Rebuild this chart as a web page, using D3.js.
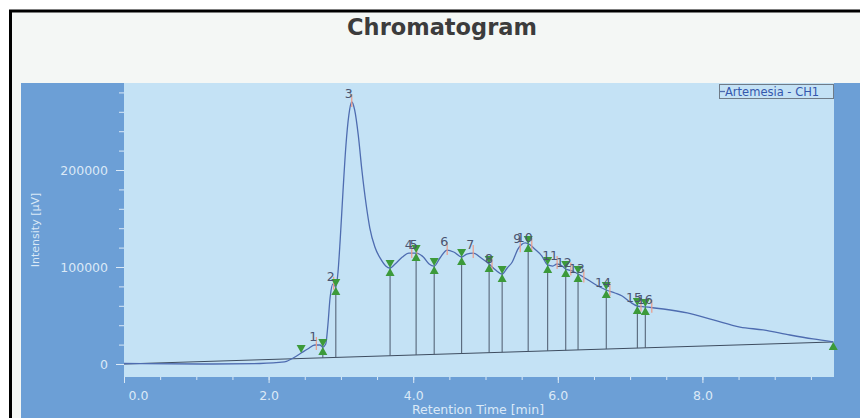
<!DOCTYPE html>
<html>
<head>
<meta charset="utf-8">
<script src="https://cdn.jsdelivr.net/npm/d3@7"></script>
<style>
  html, body { margin: 0; padding: 0; background: #ffffff; }
  svg { display: block; }
  text { font-family: "DejaVu Sans", Verdana, sans-serif; }
</style>
</head>
<body>
<div id="chart"></div>
<script>
// ---------- data ----------
const titleText = "Chromatogram";
const seriesName = "Artemesia - CH1";
const xLabel = "Retention Time [min]";
const yLabel = "Intensity [\u03bcV]";

const times = [0, 1.05, 1.88, 2.22, 2.34, 2.45, 2.54, 2.64, 2.71, 2.75, 2.79, 2.82, 2.85, 2.89, 2.93, 2.96, 2.99,
  3.03, 3.07, 3.11, 3.15, 3.19, 3.24, 3.29, 3.35, 3.40, 3.47, 3.55, 3.62, 3.68, 3.75, 3.85, 3.94, 4.04, 4.14,
  4.22, 4.29, 4.37, 4.47, 4.56, 4.67, 4.74, 4.83, 4.94, 5.05, 5.14, 5.23, 5.30, 5.37, 5.45, 5.55, 5.62, 5.68,
  5.78, 5.86, 5.93, 5.99, 6.06, 6.11, 6.20, 6.28, 6.42, 6.53, 6.67, 6.79, 6.89, 7.00, 7.10, 7.21, 7.46, 7.79,
  8.15, 8.52, 8.84, 9.21, 9.53, 9.81];
const intensities = [500, 0, 500, 2100, 6200, 11300, 15500, 19600, 19600, 17500, 20600, 40200, 68000, 82500, 79400, 94900, 127800,
  179400, 225800, 256700, 270100, 261900, 236100, 200000, 163900, 140200, 120600, 108300, 101100, 99000, 103100, 110300, 114400, 114400, 110300,
  103100, 101000, 109300, 117500, 115500, 110300, 113400, 114400, 109300, 103100, 96900, 92800, 99000, 105200, 118600, 124800, 122700, 118600,
  111300, 102100, 101000, 103100, 101000, 97900, 95900, 92800, 86600, 81400, 76300, 73200, 70100, 63900, 59800, 58800, 56700, 52600,
  45400, 38100, 35100, 29900, 25800, 22700];

const baselineTimes = [0, 9.81];
const baselineValues = [0, 22700];

const boundaryTimes = [2.45, 2.75, 2.93, 3.68, 4.04, 4.29, 4.67, 5.05, 5.23, 5.59, 5.86, 6.11, 6.28, 6.67, 7.10, 7.21, 9.81];

const peakNames = ["1", "2", "3", "4", "5", "6", "7", "8", "9", "10", "11", "12", "13", "14", "15", "16"];
const peakTimes = [2.66, 2.90, 3.15, 3.98, 4.05, 4.47, 4.83, 5.09, 5.48, 5.64, 5.99, 6.18, 6.36, 6.72, 7.15, 7.30];

const xTickLabels = ["0.0", "2.0", "4.0", "6.0", "8.0"];
const xTickValues = [0, 2, 4, 6, 8];
const yTickLabels = ["0", "100000", "200000"];
const yTickValues = [0, 100000, 200000];

// ---------- layout ----------
const W = 860, H = 418;
const plot = { left: 124, right: 834, top: 83, bottom: 377 };

const svg = d3.select("#chart").append("svg").attr("width", W).attr("height", H);

// outer frame
svg.append("rect").attr("x", 10.5).attr("y", 11).attr("width", 900).attr("height", 500)
  .attr("fill", "#f4f7f5").attr("stroke", "#000").attr("stroke-width", 3);

// title
svg.append("text").attr("x", 442).attr("y", 35).attr("text-anchor", "middle")
  .attr("font-size", 22.5).attr("font-weight", "bold").attr("fill", "#3c3c3c").text(titleText);

// blue panel
svg.append("rect").attr("x", 21).attr("y", plot.top).attr("width", W - 21).attr("height", H - plot.top)
  .attr("fill", "#6c9fd6");
// plot area
svg.append("rect").attr("x", plot.left).attr("y", plot.top)
  .attr("width", plot.right - plot.left).attr("height", plot.bottom - plot.top)
  .attr("fill", "#c4e2f5");

// scales
const x = d3.scaleLinear().domain([0, 9.82]).range([plot.left, plot.right]);
const y = d3.scaleLinear().domain([-13400, 289700]).range([plot.bottom, plot.top]);

const signalAt = d3.scaleLinear().domain(times).range(intensities);
const baseAt = d3.scaleLinear().domain(baselineTimes).range(baselineValues);

const axisColor = "#dbe9f6";

// y axis (minor + major)
const yAx = svg.append("g").attr("transform", `translate(${plot.left},0)`)
  .call(d3.axisLeft(y).tickValues(d3.range(0, 280001, 20000)).tickSize(5).tickFormat(""));
yAx.select(".domain").remove();
yAx.selectAll("line").attr("stroke", axisColor);
const yAxMaj = svg.append("g").attr("transform", `translate(${plot.left},0)`)
  .call(d3.axisLeft(y).tickValues(yTickValues).tickSize(8).tickPadding(8)
    .tickFormat((d, i) => yTickLabels[i]));
yAxMaj.select(".domain").remove();
yAxMaj.selectAll("line").attr("stroke", axisColor);
yAxMaj.selectAll("text").attr("fill", axisColor).attr("font-size", 12.5)
  .attr("font-family", "DejaVu Sans, Verdana, sans-serif");

// x axis (minor + major)
const xAx = svg.append("g").attr("transform", `translate(0,${plot.bottom})`)
  .call(d3.axisBottom(x).tickValues(d3.range(0, 9.51, 0.5)).tickSize(3).tickFormat(""));
xAx.select(".domain").remove();
xAx.selectAll("line").attr("stroke", axisColor);
const xAxMaj = svg.append("g").attr("transform", `translate(0,${plot.bottom})`)
  .call(d3.axisBottom(x).tickValues(xTickValues).tickSize(6).tickPadding(8)
    .tickFormat((d, i) => xTickLabels[i]));
xAxMaj.select(".domain").remove();
xAxMaj.selectAll("line").attr("stroke", axisColor);
xAxMaj.selectAll("text").attr("fill", axisColor).attr("font-size", 12.5)
  .attr("font-family", "DejaVu Sans, Verdana, sans-serif");
xAxMaj.selectAll(".tick").filter((d, i) => i === 0).select("text")
  .attr("text-anchor", "start").attr("dx", 4);

// axis titles
svg.append("text").attr("x", 478).attr("y", 414).attr("text-anchor", "middle")
  .attr("font-size", 12.5).attr("fill", axisColor).text(xLabel);
svg.append("text").attr("transform", "translate(39,230) rotate(-90)").attr("text-anchor", "middle")
  .attr("font-size", 11).attr("fill", axisColor).text(yLabel);

// baseline
svg.append("line")
  .attr("x1", x(baselineTimes[0])).attr("y1", y(baselineValues[0]))
  .attr("x2", x(baselineTimes[1])).attr("y2", y(baselineValues[1]))
  .attr("stroke", "#3e4d60").attr("stroke-width", 1);

// drop lines
const inner = boundaryTimes.slice(1, -1);
svg.append("g").selectAll("line").data(inner).join("line")
  .attr("x1", d => x(d)).attr("x2", d => x(d))
  .attr("y1", d => y(signalAt(d))).attr("y2", d => y(baseAt(d)))
  .attr("stroke", "#4b596c").attr("stroke-width", 1);

// signal
const pts = times.map((t, i) => [t, intensities[i]]);
svg.append("path").datum(pts)
  .attr("d", d3.line().x(d => x(d[0])).y(d => y(d[1])).curve(d3.curveMonotoneX))
  .attr("fill", "none").attr("stroke", "#4e6cb0").attr("stroke-width", 1.3);

// apex ticks
svg.append("g").selectAll("line").data(peakTimes).join("line")
  .attr("x1", d => x(d)).attr("x2", d => x(d))
  .attr("y1", d => y(signalAt(d)) - 8).attr("y2", d => y(signalAt(d)) + 5)
  .attr("stroke", "#ee9c88").attr("stroke-width", 1.2);

// markers
const green = "#3c9a3a";
const mk = svg.append("g");
boundaryTimes.forEach((t, i) => {
  const px = x(t), py = y(signalAt(t));
  if (i < boundaryTimes.length - 1) {
    mk.append("path").attr("d", `M${px},${py}L${px - 4.5},${py - 8}L${px + 4.5},${py - 8}Z`).attr("fill", green);
  }
  if (i > 0) {
    mk.append("path").attr("d", `M${px},${py}L${px - 4.5},${py + 8}L${px + 4.5},${py + 8}Z`).attr("fill", green);
  }
});

// peak labels
svg.append("g").selectAll("text").data(peakTimes).join("text")
  .attr("x", d => x(d) + 1).attr("y", d => y(signalAt(d)) - 4)
  .attr("text-anchor", "end").attr("font-size", 12.5).attr("fill", "#4a5470")
  .text((d, i) => peakNames[i]);

// legend
const lg = svg.append("g");
lg.append("rect").attr("x", 719.5).attr("y", 84.5).attr("width", 114).attr("height", 14)
  .attr("fill", "#c4e2f5").attr("stroke", "#6f7b88").attr("stroke-width", 1);
lg.append("line").attr("x1", 720).attr("x2", 725).attr("y1", 91.5).attr("y2", 91.5)
  .attr("stroke", "#4e6cb0").attr("stroke-width", 1.3);
lg.append("text").attr("x", 725).attr("y", 96).attr("font-size", 11.5).attr("fill", "#3557ad").text(seriesName);
</script>
</body>
</html>
